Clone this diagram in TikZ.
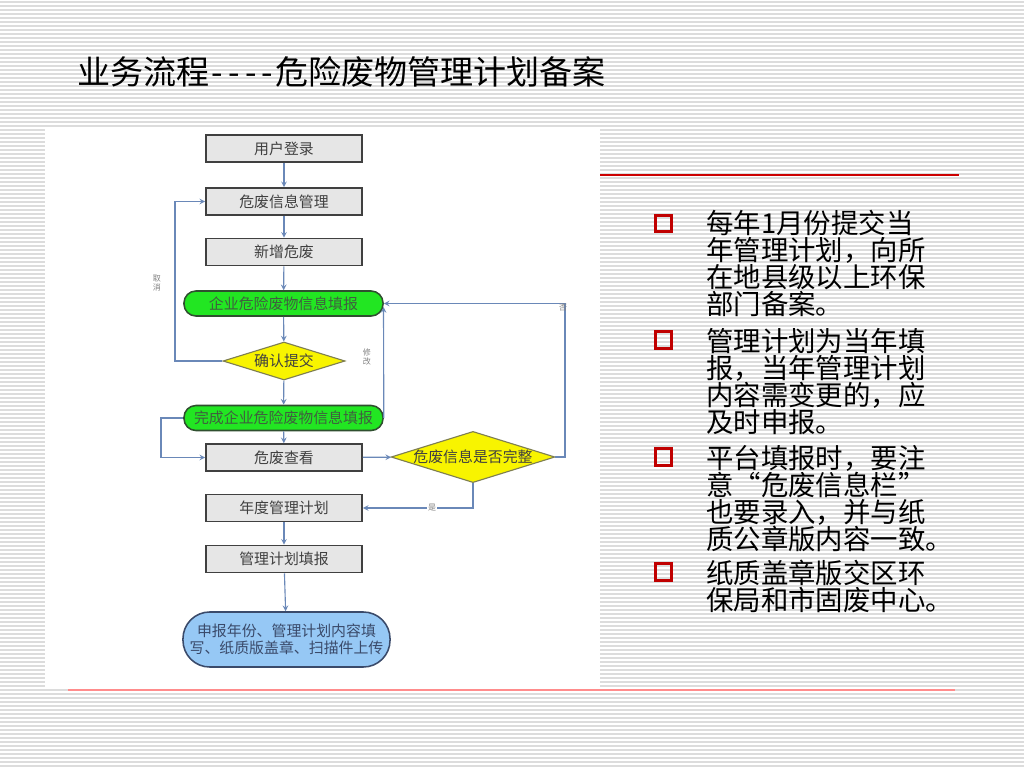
\documentclass[tikz,border=0pt]{standalone}
\usepackage{fontspec}
\setmainfont{Noto Sans CJK SC}
\usetikzlibrary{shapes.geometric, positioning, arrows}
\definecolor{stripe}{HTML}{DCDCDC}
\definecolor{boxgray}{HTML}{E6E6E6}
\definecolor{boxline}{HTML}{404040}
\definecolor{boxtext}{HTML}{404040}
\definecolor{fillgreen}{HTML}{22E622}
\definecolor{greenline}{HTML}{2F4F2F}
\definecolor{greentext}{HTML}{3F5F3F}
\definecolor{diamyellow}{HTML}{F8F400}
\definecolor{diamline}{HTML}{7F7F50}
\definecolor{skyblue}{HTML}{96C8F5}
\definecolor{skyline}{HTML}{3A4A6A}
\definecolor{flowblue}{HTML}{6A88B8}
\definecolor{bulletred}{HTML}{C00000}
\newcommand{\flowfont}{\fontsize{10.6pt}{12pt}\selectfont}
\newcommand{\pointfont}{\fontsize{19.5pt}{19.2pt}\selectfont}
\newcommand{\wdash}{\makebox[0.5em]{-}} % wide hyphen, no ligature
\tikzset{
    >=stealth, % arrow heads of the connectors
    box/.style={rectangle, draw=boxline, fill=boxgray, line width=1.1pt, minimum width=3.9cm, minimum height=0.675cm, text=boxtext, font=\flowfont}, % grey process boxes
    greenbox/.style={rectangle, rounded corners=8.5pt, draw=greenline, fill=fillgreen, line width=1.1pt, minimum width=4.975cm, minimum height=0.625cm, text=greentext, font=\flowfont}, % green input steps
    check/.style={diamond, shape aspect=3.2, inner sep=0pt, draw=diamline, fill=diamyellow, line width=0.8pt, text=boxtext, font=\flowfont}, % decisions
    flow/.style={->, draw=flowblue, line width=0.8pt}, % connectors
    note/.style={font=\fontsize{5.7pt}{6.5pt}\selectfont, text=gray, align=center, inner sep=1pt}, % small labels on the connectors
    bullet/.style={rectangle, draw=bulletred, line width=2pt, minimum size=0.41cm, inner sep=0pt}, % red hollow squares
    point/.style={anchor=north west, align=left, inner sep=0pt, font=\pointfont}, % text of a bullet point
}

\begin{document}
\begin{tikzpicture}[x=0.025cm, y=-0.025cm]
    \useasboundingbox (0,0) rectangle (1024,768);
    % striped background
    \fill[white] (0,0) rectangle (1024,768);
    \foreach \y in {2,6,...,766}
        \draw[stripe, line width=0.9pt] (0,\y) -- (1024,\y);
    \fill[white] (45,128) rectangle (600,688);
    \draw[red!80!black, line width=0.9pt] (600,175) -- (959,175);
    \draw[red!45, line width=0.9pt] (68,690) -- (955,690);

    \node[anchor=west, inner sep=0pt, font=\fontsize{23.5pt}{28pt}\selectfont] (title) at (77,72) {业务流程\wdash\wdash\wdash\wdash 危险废物管理计划备案};

    % flow chart
    \node[box] (login) at (284,148.5) {用户登录};
    \node[box] (manage) at (284,201.5) {危废信息管理};
    \node[box] (newwaste) at (284,252) {新增危废};
    \node[greenbox] (fillin) at (283.5,303.5) {企业危险废物信息填报};
    \node[check, minimum width=3.05cm, minimum height=0.95cm] (confirm) at (284,361) {确认提交};
    \node[greenbox] (done) at (283.5,418) {完成企业危险废物信息填报};
    \node[box] (view) at (284,457.5) {危废查看};
    \node[check, minimum width=4cm, minimum height=1.25cm] (complete) at (473,457) {危废信息是否完整};
    \node[box] (annual) at (284,508) {年度管理计划};
    \node[box] (plan) at (284,559) {管理计划填报};
    \node[rectangle, rounded corners=19pt, draw=skyline, fill=skyblue, line width=1.1pt, minimum width=5.175cm, minimum height=1.375cm, text=skyline, align=center, font=\flowfont] (submit) at (286.5,639.5) {申报年份、管理计划内容填\\写、纸质版盖章、扫描件上传};

    \coordinate (cancel) at (175,361);
    \coordinate (back) at (161,418);
    \coordinate (redo) at (383.5,307);
    \coordinate (no) at (565,457);

    \draw[flow] (login) -- (manage);
    \draw[flow] (manage) -- (newwaste);
    \draw[flow] (newwaste) -- (fillin);
    \draw[flow] (fillin) -- (confirm);
    \draw[flow] (confirm) -- (done);
    \draw[flow] (done) -- (view);
    \draw[flow] (view) -- (complete);
    \draw[flow] (annual) -- (plan);
    \draw[flow] (plan) -- (submit);
    \draw[flow] (confirm.west) -- (cancel) |- (manage.west);
    \draw[flow] (done.east) -- (redo);
    \draw[flow] (done.west) -- (back) |- (view.west);
    \draw[flow] (complete.east) -- (no) |- (fillin.east);
    \draw[flow] (complete.south) |- (annual.east);

    \node[note] (cancelnote) at (157,283) {取\\消};
    \node[note] (redonote) at (367,357) {修\\改};
    \node[note] (nonote) at (563,308) {否};
    \node[note, fill=white] (yesnote) at (432,508) {是};

    % bullet points
    \node[bullet] (b1) at (663.5,223.5) {};
    \node[point] (p1) at (706,210) {每年1月份提交当\\年管理计划，向所\\在地县级以上环保\\部门备案。};
    \node[bullet] (b2) at (663.5,340) {};
    \node[point] (p2) at (706,328) {管理计划为当年填\\报，当年管理计划\\内容需变更的，应\\及时申报。};
    \node[bullet] (b3) at (663.5,457) {};
    \node[point] (p3) at (706,445) {平台填报时，要注\\意“危废信息栏”\\也要录入，并与纸\\质公章版内容一致。};
    \node[bullet] (b4) at (663.5,572) {};
    \node[point] (p4) at (706,560) {纸质盖章版交区环\\保局和市固废中心。};
\end{tikzpicture}
\end{document}
